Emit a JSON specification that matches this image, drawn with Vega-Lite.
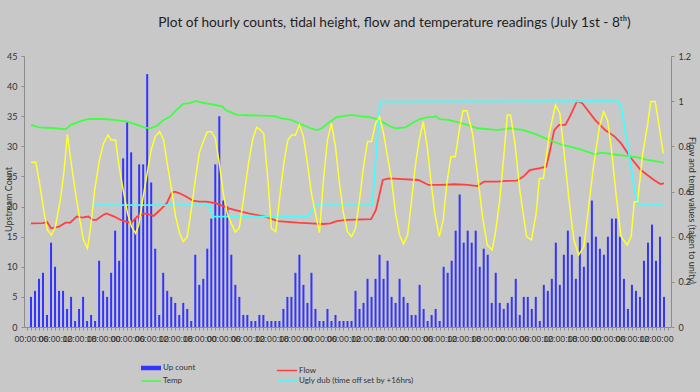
{
  "$schema": "https://vega.github.io/schema/vega-lite/v6.json",
  "autosize": {"type": "none"},
  "padding": {"left": 24, "top": 56, "right": 29, "bottom": 65},
  "width": 647,
  "height": 271,
  "background": "#c8c8c8",
  "config": {"font": "Lato", "view": {"stroke": null}},
  "title": {
    "text": "Plot of hourly counts, tidal height, flow and temperature readings (July 1st - 8ᵗʰ)",
    "fontSize": 13.7, "font": "Lato", "fontWeight": "normal", "color": "#1e1e1e",
    "anchor": "middle", "frame": "group", "dx": 47, "dy": 2, "offset": 24
  },
  "datasets": {
    "counts": [
      {"h":0,"count":5},{"h":1,"count":6},{"h":2,"count":8},{"h":3,"count":9},{"h":4,"count":2},{"h":5,"count":14},{"h":6,"count":10},{"h":7,"count":6},{"h":8,"count":6},{"h":9,"count":3},
      {"h":10,"count":5},{"h":11,"count":1},{"h":12,"count":3},{"h":13,"count":5},{"h":14,"count":1},{"h":15,"count":2},{"h":16,"count":1},{"h":17,"count":11},{"h":18,"count":6},{"h":19,"count":5},
      {"h":20,"count":9},{"h":21,"count":16},{"h":22,"count":11},{"h":23,"count":28},{"h":24,"count":34},{"h":25,"count":29},{"h":26,"count":18},{"h":27,"count":27},{"h":28,"count":27},{"h":29,"count":42},
      {"h":30,"count":24},{"h":31,"count":13},{"h":32,"count":2},{"h":33,"count":9},{"h":34,"count":6},{"h":35,"count":5},{"h":36,"count":4},{"h":37,"count":2},{"h":38,"count":4},{"h":39,"count":3},
      {"h":40,"count":1},{"h":41,"count":12},{"h":42,"count":7},{"h":43,"count":8},{"h":44,"count":13},{"h":45,"count":18},{"h":46,"count":27},{"h":47,"count":35},{"h":48,"count":21},{"h":49,"count":20},
      {"h":50,"count":12},{"h":51,"count":7},{"h":52,"count":5},{"h":53,"count":2},{"h":54,"count":2},{"h":55,"count":1},{"h":56,"count":1},{"h":57,"count":2},{"h":58,"count":2},{"h":59,"count":1},
      {"h":60,"count":1},{"h":61,"count":1},{"h":62,"count":1},{"h":63,"count":3},{"h":64,"count":5},{"h":65,"count":5},{"h":66,"count":9},{"h":67,"count":12},{"h":68,"count":7},{"h":69,"count":4},
      {"h":70,"count":9},{"h":71,"count":3},{"h":72,"count":1},{"h":73,"count":1},{"h":74,"count":3},{"h":75,"count":1},{"h":76,"count":2},{"h":77,"count":1},{"h":78,"count":1},{"h":79,"count":1},
      {"h":80,"count":1},{"h":81,"count":6},{"h":82,"count":3},{"h":83,"count":4},{"h":84,"count":8},{"h":85,"count":5},{"h":86,"count":8},{"h":87,"count":12},{"h":88,"count":8},{"h":89,"count":11},
      {"h":90,"count":5},{"h":91,"count":4},{"h":92,"count":8},{"h":93,"count":5},{"h":94,"count":4},{"h":95,"count":2},{"h":96,"count":2},{"h":97,"count":7},{"h":98,"count":3},{"h":99,"count":1},
      {"h":100,"count":2},{"h":101,"count":3},{"h":102,"count":1},{"h":103,"count":10},{"h":104,"count":9},{"h":105,"count":11},{"h":106,"count":16},{"h":107,"count":22},{"h":108,"count":14},{"h":109,"count":16},
      {"h":110,"count":14},{"h":111,"count":16},{"h":112,"count":10},{"h":113,"count":13},{"h":114,"count":12},{"h":115,"count":4},{"h":116,"count":9},{"h":117,"count":4},{"h":118,"count":3},{"h":119,"count":4},
      {"h":120,"count":5},{"h":121,"count":8},{"h":122,"count":2},{"h":123,"count":5},{"h":124,"count":5},{"h":125,"count":3},{"h":126,"count":5},{"h":127,"count":1},{"h":128,"count":7},{"h":129,"count":6},
      {"h":130,"count":8},{"h":131,"count":14},{"h":132,"count":7},{"h":133,"count":12},{"h":134,"count":16},{"h":135,"count":12},{"h":136,"count":8},{"h":137,"count":15},{"h":138,"count":10},{"h":139,"count":14},
      {"h":140,"count":21},{"h":141,"count":15},{"h":142,"count":13},{"h":143,"count":12},{"h":144,"count":15},{"h":145,"count":18},{"h":146,"count":18},{"h":147,"count":15},{"h":148,"count":8},{"h":149,"count":3},
      {"h":150,"count":7},{"h":151,"count":6},{"h":152,"count":5},{"h":153,"count":11},{"h":154,"count":14},{"h":155,"count":17},{"h":156,"count":11},{"h":157,"count":15},{"h":158,"count":5}
    ],
    "flow": [
      {"h":0,"v":0.459},{"h":3,"v":0.46},{"h":4,"v":0.466},{"h":5,"v":0.437},{"h":7,"v":0.444},{"h":8.6,"v":0.462},{"h":9.8,"v":0.462},{"h":11.4,"v":0.489},{"h":12.7,"v":0.484},{"h":14.3,"v":0.489},
      {"h":15.5,"v":0.474},{"h":16.3,"v":0.474},{"h":18,"v":0.496},{"h":18.8,"v":0.503},{"h":20.8,"v":0.489},{"h":22.4,"v":0.474},{"h":24.1,"v":0.464},{"h":25.3,"v":0.467},{"h":26.5,"v":0.489},{"h":28.2,"v":0.503},
      {"h":29.8,"v":0.496},{"h":30.6,"v":0.492},{"h":32.2,"v":0.518},{"h":33.9,"v":0.548},{"h":35.1,"v":0.595},{"h":35.9,"v":0.599},{"h":37.1,"v":0.592},{"h":38.8,"v":0.577},{"h":40.4,"v":0.559},{"h":42,"v":0.555},
      {"h":43.7,"v":0.555},{"h":46.1,"v":0.548},{"h":47.8,"v":0.536},{"h":49.4,"v":0.525},{"h":51,"v":0.518},{"h":54.3,"v":0.503},{"h":58.4,"v":0.489},{"h":61.6,"v":0.469},{"h":66.5,"v":0.462},{"h":69.8,"v":0.459},
      {"h":73,"v":0.456},{"h":74.7,"v":0.459},{"h":76.3,"v":0.469},{"h":78.8,"v":0.474},{"h":82.9,"v":0.477},{"h":84.9,"v":0.478},{"h":86.1,"v":0.518},{"h":87.8,"v":0.651},{"h":89.4,"v":0.658},{"h":92.7,"v":0.655},
      {"h":96.7,"v":0.651},{"h":99.2,"v":0.629},{"h":102.4,"v":0.629},{"h":105.7,"v":0.632},{"h":109,"v":0.629},{"h":111.4,"v":0.624},{"h":113.1,"v":0.644},{"h":116.3,"v":0.644},{"h":118.8,"v":0.647},{"h":121.2,"v":0.648},
      {"h":122.9,"v":0.666},{"h":124.5,"v":0.695},{"h":127,"v":0.703},{"h":128.6,"v":0.71},{"h":129.4,"v":0.769},{"h":130.6,"v":0.872},{"h":131.8,"v":0.895},{"h":133.4,"v":0.895},{"h":134.7,"v":0.939},{"h":136.3,"v":1.0},
      {"h":137.6,"v":0.991},{"h":140.8,"v":0.917},{"h":143.3,"v":0.872},{"h":145.7,"v":0.843},{"h":147.3,"v":0.813},{"h":149.8,"v":0.747},{"h":152.2,"v":0.695},{"h":155.5,"v":0.651},{"h":157.1,"v":0.633},{"h":158,"v":0.636}
    ],
    "temp": [
      {"h":0,"v":0.895},{"h":2,"v":0.884},{"h":6,"v":0.88},{"h":8.6,"v":0.875},{"h":10,"v":0.895},{"h":12,"v":0.909},{"h":14.3,"v":0.921},{"h":18.4,"v":0.921},{"h":20.8,"v":0.917},{"h":24.1,"v":0.909},
      {"h":26.5,"v":0.895},{"h":28.2,"v":0.884},{"h":29.8,"v":0.88},{"h":31.4,"v":0.89},{"h":33.1,"v":0.917},{"h":34.7,"v":0.931},{"h":36.3,"v":0.961},{"h":38,"v":0.988},{"h":39.6,"v":0.991},{"h":41.2,"v":1.001},
      {"h":42.9,"v":0.993},{"h":44.5,"v":0.988},{"h":46.1,"v":0.983},{"h":47.8,"v":0.976},{"h":48.6,"v":0.961},{"h":50.2,"v":0.948},{"h":51.4,"v":0.939},{"h":60.8,"v":0.934},{"h":62.5,"v":0.924},{"h":64.9,"v":0.917},
      {"h":67.3,"v":0.899},{"h":69.8,"v":0.88},{"h":71.4,"v":0.872},{"h":72.6,"v":0.88},{"h":74.3,"v":0.905},{"h":76.3,"v":0.929},{"h":77.9,"v":0.934},{"h":80,"v":0.939},{"h":82,"v":0.934},{"h":84.5,"v":0.929},
      {"h":86.9,"v":0.917},{"h":89.4,"v":0.89},{"h":91,"v":0.88},{"h":93.5,"v":0.884},{"h":95.1,"v":0.902},{"h":97.1,"v":0.921},{"h":99.2,"v":0.929},{"h":100.5,"v":0.929},{"h":101,"v":0.934},{"h":102,"v":0.92},
      {"h":104.1,"v":0.917},{"h":106.5,"v":0.907},{"h":109,"v":0.895},{"h":111.4,"v":0.88},{"h":114.7,"v":0.875},{"h":116.3,"v":0.872},{"h":119.6,"v":0.88},{"h":122.9,"v":0.872},{"h":126.1,"v":0.853},{"h":129.4,"v":0.828},
      {"h":132.6,"v":0.806},{"h":135.1,"v":0.796},{"h":137.5,"v":0.784},{"h":140.8,"v":0.765},{"h":142.4,"v":0.772},{"h":144.9,"v":0.766},{"h":149,"v":0.757},{"h":151.4,"v":0.751},{"h":153.9,"v":0.74},{"h":158,"v":0.728}
    ],
    "dub": [
      {"h":15.1,"v":0.54},{"h":43.7,"v":0.54},{"h":44.5,"v":0.545},{"h":45.3,"v":0.489},{"h":69,"v":0.489},{"h":70.2,"v":0.515},{"h":71,"v":0.54},{"h":85,"v":0.54},{"h":85.3,"v":0.56},{"h":86.1,"v":0.754},
      {"h":87.1,"v":0.998},{"h":146.5,"v":1.0},{"h":147.3,"v":0.976},{"h":149,"v":0.799},{"h":150.6,"v":0.607},{"h":151.4,"v":0.548},{"h":152.3,"v":0.54},{"h":158,"v":0.54}
    ],
    "tide": [
      {"h":0,"v":0.729},{"h":1.2,"v":0.729},{"h":2,"v":0.651},{"h":3.3,"v":0.503},{"h":4.1,"v":0.43},{"h":5.1,"v":0.407},{"h":6.1,"v":0.444},{"h":7.3,"v":0.562},{"h":8.2,"v":0.681},{"h":9.1,"v":0.853},
      {"h":9.8,"v":0.754},{"h":11,"v":0.607},{"h":12.2,"v":0.474},{"h":13.1,"v":0.385},{"h":14.1,"v":0.348},{"h":14.9,"v":0.444},{"h":15.9,"v":0.607},{"h":17.1,"v":0.74},{"h":18.1,"v":0.813},{"h":19.2,"v":0.85},
      {"h":20,"v":0.828},{"h":21.1,"v":0.828},{"h":22,"v":0.71},{"h":23,"v":0.607},{"h":24.1,"v":0.503},{"h":25.1,"v":0.444},{"h":26.1,"v":0.415},{"h":26.9,"v":0.452},{"h":28,"v":0.577},{"h":29,"v":0.681},
      {"h":30,"v":0.784},{"h":31,"v":0.843},{"h":32.1,"v":0.865},{"h":33.1,"v":0.828},{"h":34,"v":0.725},{"h":35.1,"v":0.607},{"h":36.1,"v":0.489},{"h":37.1,"v":0.415},{"h":38,"v":0.378},{"h":39,"v":0.4},
      {"h":40,"v":0.518},{"h":41,"v":0.651},{"h":42,"v":0.769},{"h":43,"v":0.821},{"h":44,"v":0.865},{"h":45,"v":0.865},{"h":46,"v":0.836},{"h":47,"v":0.725},{"h":48,"v":0.592},{"h":49,"v":0.503},
      {"h":50,"v":0.459},{"h":51,"v":0.42},{"h":52,"v":0.44},{"h":53,"v":0.562},{"h":54.3,"v":0.725},{"h":55.3,"v":0.828},{"h":56.3,"v":0.884},{"h":57.1,"v":0.875},{"h":58.1,"v":0.858},{"h":59.2,"v":0.636},
      {"h":60,"v":0.437},{"h":61.1,"v":0.422},{"h":62,"v":0.562},{"h":63.1,"v":0.725},{"h":64.1,"v":0.828},{"h":65.1,"v":0.85},{"h":66,"v":0.85},{"h":67,"v":0.895},{"h":68,"v":0.843},{"h":69,"v":0.725},
      {"h":70,"v":0.592},{"h":71,"v":0.503},{"h":72,"v":0.418},{"h":73,"v":0.651},{"h":74,"v":0.828},{"h":75,"v":0.902},{"h":76,"v":0.799},{"h":77,"v":0.636},{"h":78,"v":0.503},{"h":79,"v":0.422},
      {"h":80,"v":0.4},{"h":81,"v":0.437},{"h":82,"v":0.562},{"h":83,"v":0.71},{"h":84,"v":0.821},{"h":85,"v":0.821},{"h":86,"v":0.902},{"h":87,"v":0.931},{"h":88,"v":0.858},{"h":89,"v":0.754},
      {"h":90,"v":0.651},{"h":91,"v":0.503},{"h":92,"v":0.407},{"h":93,"v":0.368},{"h":94,"v":0.407},{"h":95,"v":0.562},{"h":95.9,"v":0.71},{"h":96.9,"v":0.828},{"h":97.9,"v":0.909},{"h":98.9,"v":0.799},
      {"h":99.8,"v":0.651},{"h":100.8,"v":0.503},{"h":101.9,"v":0.4},{"h":102.9,"v":0.474},{"h":103.8,"v":0.636},{"h":104.8,"v":0.754},{"h":105.9,"v":0.754},{"h":106.9,"v":0.872},{"h":107.8,"v":0.958},{"h":108.8,"v":0.958},
      {"h":110.2,"v":0.858},{"h":111.4,"v":0.681},{"h":112.7,"v":0.489},{"h":113.9,"v":0.363},{"h":115.1,"v":0.341},{"h":115.9,"v":0.415},{"h":117,"v":0.562},{"h":118,"v":0.754},{"h":118.9,"v":0.939},{"h":119.7,"v":0.939},
      {"h":120.8,"v":0.813},{"h":122,"v":0.607},{"h":123.7,"v":0.4},{"h":124.9,"v":0.385},{"h":126.1,"v":0.503},{"h":126.9,"v":0.658},{"h":127.9,"v":0.658},{"h":129.4,"v":0.858},{"h":130.9,"v":0.983},{"h":132,"v":0.946},
      {"h":133,"v":0.784},{"h":134.3,"v":0.562},{"h":135.5,"v":0.385},{"h":136.7,"v":0.319},{"h":138,"v":0.356},{"h":139.2,"v":0.533},{"h":140.4,"v":0.71},{"h":141.9,"v":0.887},{"h":142.9,"v":0.954},{"h":143.9,"v":0.917},
      {"h":144.9,"v":0.784},{"h":146.1,"v":0.577},{"h":147.3,"v":0.4},{"h":148.8,"v":0.363},{"h":149.8,"v":0.4},{"h":150.6,"v":0.555},{"h":151.4,"v":0.555},{"h":152.7,"v":0.769},{"h":153.9,"v":0.895},{"h":154.7,"v":0.998},
      {"h":155.8,"v":0.998},{"h":156.7,"v":0.902},{"h":157.8,"v":0.769}
    ]
  },
  "encoding": {
    "x": {
      "field": "h", "type": "quantitative",
      "scale": {"domain": [-0.5, 158.5], "nice": false, "zero": false},
      "axis": {
        "title": null, "grid": false, "tickCount": 160,
        "labelExpr": "datum.value % 6 === 0 ? ((datum.value % 24 < 10 ? '0' : '') + (datum.value % 24) + ':00:00') : ''",
        "labelOverlap": false, "labelFlush": false, "labelBound": false,
        "labelFont": "Liberation Sans", "labelFontSize": 8.8, "labelColor": "#333333",
        "labelPadding": 4, "tickSize": 3, "tickColor": "#8c8c8c", "domainColor": "#8c8c8c"
      }
    }
  },
  "layer": [
    {
      "data": {"name": "counts"},
      "mark": {"type": "bar", "size": 2},
      "encoding": {
        "y": {
          "field": "count", "type": "quantitative",
          "scale": {"domain": [0, 45], "nice": false},
          "axis": {
            "values": [0, 5, 10, 15, 20, 25, 30, 35, 40, 45], "grid": false,
            "title": "Upstream Count", "titleAngle": -90, "titleX": -11, "titleY": 143,
            "titleFontSize": 9, "titleFontWeight": "normal", "titleColor": "#333333", "titleFont": "Lato",
            "labelFontSize": 9, "labelColor": "#333333", "labelPadding": 4,
            "tickSize": 3, "tickColor": "#8c8c8c", "domainColor": "#8c8c8c"
          }
        },
        "color": {
          "datum": "Up count",
          "scale": {
            "domain": ["Up count", "Flow", "Temp", "Ugly dub (time off set by +16hrs)"],
            "range": ["#3434ff", "#ff4040", "#40ff40", "#40ffff"]
          },
          "legend": {
            "values": ["Up count", "Flow", "Temp", "Ugly dub (time off set by +16hrs)"],
            "orient": "none", "legendX": 123, "legendY": 308, "direction": "horizontal",
            "columns": 2, "columnPadding": 78, "rowPadding": 0, "padding": 0,
            "title": null, "symbolType": "stroke", "symbolSize": 400, "symbolStrokeWidth": 1.5,
            "labelFont": "Lato", "labelFontSize": 8, "labelColor": "#333333", "labelOffset": 8,
            "encode": {
              "symbols": {
                "update": {
                  "strokeWidth": {"signal": "datum.value === 'Up count' ? 4.5 : 1.5"},
                  "stroke": {"scale": "color", "field": "value"}
                }
              }
            }
          }
        }
      }
    },
    {
      "encoding": {
        "y": {
          "field": "v", "type": "quantitative",
          "scale": {"domain": [0, 1.2], "nice": false},
          "axis": {
            "orient": "right",
            "values": [0, 0.2, 0.4, 0.6, 0.8, 1, 1.2], "grid": false,
            "labelExpr": "'' + datum.value",
            "title": "Flow and temp values (taken to unity)", "titleAngle": 90, "titleX": 15, "titleY": 154,
            "titleFontSize": 9, "titleFontWeight": "normal", "titleColor": "#333333", "titleFont": "Lato",
            "labelFontSize": 9, "labelColor": "#333333", "labelPadding": 4,
            "tickSize": 3, "tickColor": "#8c8c8c", "domainColor": "#8c8c8c"
          }
        }
      },
      "layer": [
        {
          "data": {"name": "flow"},
          "mark": {"type": "line", "strokeWidth": 1.8},
          "encoding": {"color": {"datum": "Flow"}}
        },
        {
          "data": {"name": "temp"},
          "mark": {"type": "line", "strokeWidth": 1.8},
          "encoding": {"color": {"datum": "Temp"}}
        },
        {
          "data": {"name": "dub"},
          "mark": {"type": "line", "strokeWidth": 1.8},
          "encoding": {"color": {"datum": "Ugly dub (time off set by +16hrs)"}}
        },
        {
          "data": {"name": "tide"},
          "mark": {"type": "line", "strokeWidth": 1.5, "color": "#ffff33"},
          "encoding": {}
        }
      ]
    }
  ],
  "resolve": {"scale": {"y": "independent"}}
}
